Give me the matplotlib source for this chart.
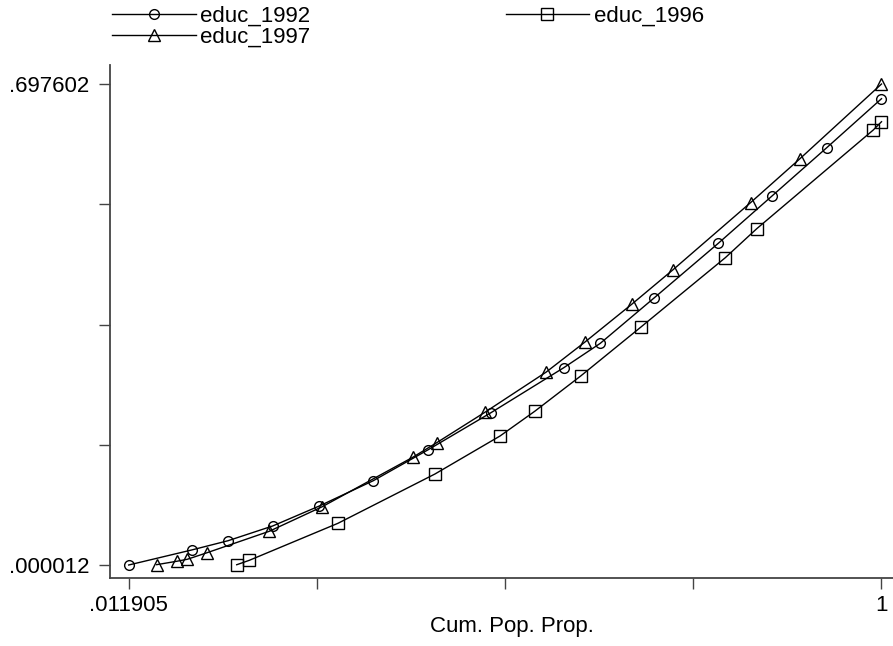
import matplotlib
matplotlib.use("Agg")
import matplotlib.pyplot as plt

plt.rcParams['font.family'] = ['Liberation Sans', 'DejaVu Sans']

# Data
x_1992 = [0.011905, 0.0946, 0.1422, 0.2009, 0.2621, 0.3330, 0.4044, 0.4874,
          0.5829, 0.6309, 0.7014, 0.7858, 0.8567, 0.9281, 1.0]
y_1992 = [0.000012, 0.0218, 0.0352, 0.0566, 0.0856, 0.1223, 0.1668, 0.2209,
          0.2861, 0.3215, 0.3872, 0.4666, 0.5356, 0.6052, 0.6763]

x_1996 = [0.1537, 0.1702, 0.2866, 0.4139, 0.4993, 0.5448, 0.6056, 0.6843,
          0.7950, 0.8362, 0.9892, 1.0]
y_1996 = [0.0004, 0.0068, 0.0605, 0.1320, 0.1871, 0.2229, 0.2745, 0.3452,
          0.4457, 0.4877, 0.6309, 0.6429]

x_1997 = [0.0487, 0.0749, 0.0888, 0.1147, 0.1964, 0.2660, 0.3847, 0.4162,
          0.4800, 0.5600, 0.6108, 0.6721, 0.7259, 0.8283, 0.8930, 1.0]
y_1997 = [0.0005, 0.0054, 0.0083, 0.0178, 0.0489, 0.0846, 0.1562, 0.1774,
          0.2219, 0.2799, 0.3234, 0.3781, 0.4278, 0.5257, 0.5893, 0.697602]

x_min, x_max = 0.011905, 1.0
y_min, y_max = 0.000012, 0.697602
x_tick_labels = ['.011905', '', '', '', '1']
y_tick_labels = ['.000012', '', '', '', '.697602']
x_title = 'Cum. Pop. Prop.'

fig = plt.figure(figsize=(8.93, 6.46), dpi=100)
ax = fig.add_axes([110/893, 1 - 578/646, 783/893, (578-65)/646])

mk = dict(color='black', lw=1.0, mfc='none', mec='black', mew=1.0)
l92, = ax.plot(x_1992, y_1992, marker='o', ms=7, label='educ_1992', **mk)
l96, = ax.plot(x_1996, y_1996, marker='s', ms=8.5, label='educ_1996', **mk)
l97, = ax.plot(x_1997, y_1997, marker='^', ms=9, label='educ_1997', **mk)

px_x = 761.87
px_y = 689.5
ax.set_xlim(x_min - 18.7/px_x, x_max + 11.5/px_x)
ax.set_ylim(y_min - 13/px_y, y_max + 19/px_y)

step_x = (x_max - x_min) / 4
step_y = (y_max - y_min) / 4
ax.set_xticks([x_min + i*step_x for i in range(5)])
ax.set_xticklabels(x_tick_labels)
ax.set_yticks([y_min + i*step_y for i in range(5)])
ax.set_yticklabels(y_tick_labels)

for s in ['top', 'right']:
    ax.spines[s].set_visible(False)
for s in ['left', 'bottom']:
    ax.spines[s].set_color('#444444')
    ax.spines[s].set_linewidth(1.3)
ax.tick_params(direction='out', length=8, width=1, color='#444444',
               labelsize=16)
ax.tick_params(axis='y', pad=7)
ax.tick_params(axis='x', pad=4)

ax.set_xlabel(x_title, fontsize=16)
ax.xaxis.set_label_coords((512-110)/783, -0.075)

fig.legend([l92, l97, l96], ['educ_1992', 'educ_1997', 'educ_1996'],
           ncol=2, loc='upper left', bbox_to_anchor=(99/893, 1.0 + 8/646),
           frameon=False, fontsize=16, numpoints=1, handlelength=3.75,
           handletextpad=0.2, columnspacing=8.8, labelspacing=0.0,
           borderaxespad=0.2)

fig.savefig('out.png', dpi=100)
